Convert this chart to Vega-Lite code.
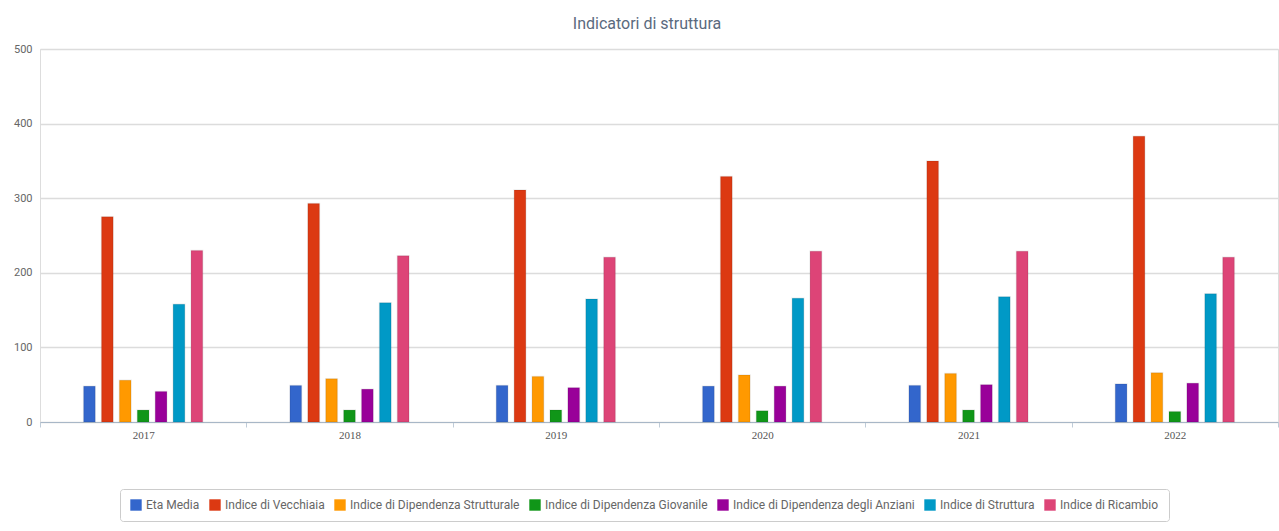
{
  "$schema": "https://vega.github.io/schema/vega-lite/v6.json",
  "width": 1238,
  "height": 373,
  "autosize": {"type": "none"},
  "padding": {"left": 40, "top": 49, "right": 1, "bottom": 109},
  "background": "white",
  "title": {"text": "Indicatori di struttura", "fontSize": 16, "font": "Roboto", "fontWeight": "normal", "color": "#5a6a7e", "anchor": "middle", "offset": 11, "dx": -12},
  "data": {"values": [
    {"anno": "2017", "indicatore": "Eta Media", "valore": 48},
    {"anno": "2017", "indicatore": "Indice di Vecchiaia", "valore": 275},
    {"anno": "2017", "indicatore": "Indice di Dipendenza Strutturale", "valore": 56},
    {"anno": "2017", "indicatore": "Indice di Dipendenza Giovanile", "valore": 16},
    {"anno": "2017", "indicatore": "Indice di Dipendenza degli Anziani", "valore": 41},
    {"anno": "2017", "indicatore": "Indice di Struttura", "valore": 158},
    {"anno": "2017", "indicatore": "Indice di Ricambio", "valore": 230},
    {"anno": "2018", "indicatore": "Eta Media", "valore": 49},
    {"anno": "2018", "indicatore": "Indice di Vecchiaia", "valore": 293},
    {"anno": "2018", "indicatore": "Indice di Dipendenza Strutturale", "valore": 58},
    {"anno": "2018", "indicatore": "Indice di Dipendenza Giovanile", "valore": 16},
    {"anno": "2018", "indicatore": "Indice di Dipendenza degli Anziani", "valore": 44},
    {"anno": "2018", "indicatore": "Indice di Struttura", "valore": 160},
    {"anno": "2018", "indicatore": "Indice di Ricambio", "valore": 223},
    {"anno": "2019", "indicatore": "Eta Media", "valore": 49},
    {"anno": "2019", "indicatore": "Indice di Vecchiaia", "valore": 311},
    {"anno": "2019", "indicatore": "Indice di Dipendenza Strutturale", "valore": 61},
    {"anno": "2019", "indicatore": "Indice di Dipendenza Giovanile", "valore": 16},
    {"anno": "2019", "indicatore": "Indice di Dipendenza degli Anziani", "valore": 46},
    {"anno": "2019", "indicatore": "Indice di Struttura", "valore": 165},
    {"anno": "2019", "indicatore": "Indice di Ricambio", "valore": 221},
    {"anno": "2020", "indicatore": "Eta Media", "valore": 48},
    {"anno": "2020", "indicatore": "Indice di Vecchiaia", "valore": 329},
    {"anno": "2020", "indicatore": "Indice di Dipendenza Strutturale", "valore": 63},
    {"anno": "2020", "indicatore": "Indice di Dipendenza Giovanile", "valore": 15},
    {"anno": "2020", "indicatore": "Indice di Dipendenza degli Anziani", "valore": 48},
    {"anno": "2020", "indicatore": "Indice di Struttura", "valore": 166},
    {"anno": "2020", "indicatore": "Indice di Ricambio", "valore": 229},
    {"anno": "2021", "indicatore": "Eta Media", "valore": 49},
    {"anno": "2021", "indicatore": "Indice di Vecchiaia", "valore": 350},
    {"anno": "2021", "indicatore": "Indice di Dipendenza Strutturale", "valore": 65},
    {"anno": "2021", "indicatore": "Indice di Dipendenza Giovanile", "valore": 16},
    {"anno": "2021", "indicatore": "Indice di Dipendenza degli Anziani", "valore": 50},
    {"anno": "2021", "indicatore": "Indice di Struttura", "valore": 168},
    {"anno": "2021", "indicatore": "Indice di Ricambio", "valore": 229},
    {"anno": "2022", "indicatore": "Eta Media", "valore": 51},
    {"anno": "2022", "indicatore": "Indice di Vecchiaia", "valore": 383},
    {"anno": "2022", "indicatore": "Indice di Dipendenza Strutturale", "valore": 66},
    {"anno": "2022", "indicatore": "Indice di Dipendenza Giovanile", "valore": 14},
    {"anno": "2022", "indicatore": "Indice di Dipendenza degli Anziani", "valore": 52},
    {"anno": "2022", "indicatore": "Indice di Struttura", "valore": 172},
    {"anno": "2022", "indicatore": "Indice di Ricambio", "valore": 221}
  ]},
  "mark": {"type": "bar", "stroke": "#000000", "strokeOpacity": 0.08, "strokeWidth": 1.5},
  "encoding": {
    "x": {"field": "anno", "type": "ordinal", "scale": {"paddingInner": 0, "paddingOuter": 0},
      "axis": {"title": null, "labelAngle": 0, "tickBand": "extent", "domainColor": "#a8b7c7", "tickColor": "#c0ccd8", "tickSize": 5, "labelPadding": 2, "labelFontSize": 11, "labelColor": "#555555", "labelFont": "Liberation Serif"}},
    "y": {"field": "valore", "type": "quantitative", "scale": {"domain": [0, 500]},
      "axis": {"title": null, "values": [0, 100, 200, 300, 400, 500], "domain": false, "ticks": false, "labelPadding": 8, "gridColor": "#dcdcdc", "gridWidth": 1.5, "labelColor": "#666666", "labelFontSize": 11, "labelFont": "Roboto"}},
    "xOffset": {"field": "indicatore", "type": "nominal",
      "sort": ["Eta Media", "Indice di Vecchiaia", "Indice di Dipendenza Strutturale", "Indice di Dipendenza Giovanile", "Indice di Dipendenza degli Anziani", "Indice di Struttura", "Indice di Ricambio"],
      "scale": {"range": [43.6, 162.7], "paddingInner": 0.35, "paddingOuter": 0}},
    "color": {"field": "indicatore", "type": "nominal",
      "scale": {"domain": ["Eta Media", "Indice di Vecchiaia", "Indice di Dipendenza Strutturale", "Indice di Dipendenza Giovanile", "Indice di Dipendenza degli Anziani", "Indice di Struttura", "Indice di Ricambio"],
        "range": ["#3366CC", "#DC3912", "#FF9900", "#109618", "#990099", "#0099C6", "#DD4477"]},
      "legend": {"title": null, "orient": "none", "legendX": 80, "legendY": 440, "direction": "horizontal", "symbolType": "square", "symbolSize": 130, "symbolStrokeWidth": 0, "symbolOpacity": 1, "labelFontSize": 12, "labelColor": "#666666", "labelFont": "Roboto", "columnPadding": 9, "labelOffset": 4, "padding": 10, "strokeColor": "#cccccc", "cornerRadius": 3, "fillColor": "white", "labelLimit": 300}}
  }
}
